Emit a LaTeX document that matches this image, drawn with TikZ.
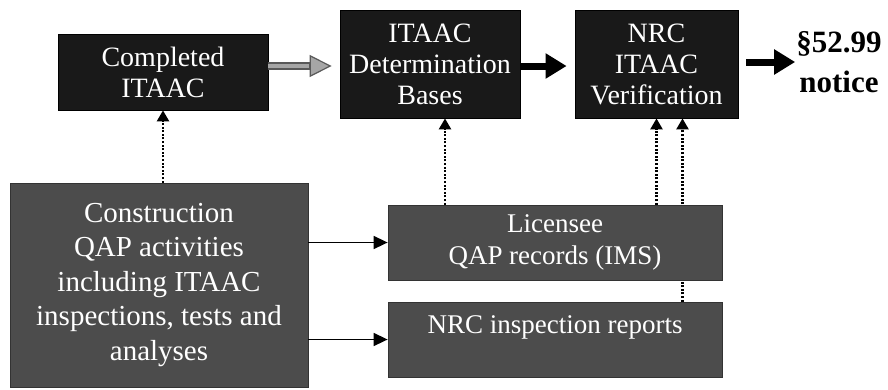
\documentclass[tikz,border=0pt]{standalone}
\usepackage{fontspec}
\setmainfont{Liberation Serif}
\newfontfamily\boxserif{Liberation Serif}
\usetikzlibrary{arrows.meta,backgrounds,calc}
\definecolor{topfill}{gray}{0.1}
\definecolor{lowfill}{gray}{0.3}
\tikzset{
  topbox/.style={draw=black, line width=0.8pt, fill=topfill, text=white, align=center,
    inner sep=0pt, font=\boxserif\fontsize{28}{31}\selectfont},
  lowbox/.style={draw=black!80, line width=0.8pt, fill=lowfill, text=white, align=center,
    inner sep=0pt},
  lowtext/.style={text=white, align=center, inner sep=0pt, font=\boxserif\fontsize{27}{32}\selectfont},
  bigarrow/.style={line width=7pt, -{Triangle[length=21pt,width=24pt]}},
  greyarrow/.style={line width=8pt, draw=black!65, -{Triangle[length=22pt,width=22pt,fill=black!35,line width=1.2pt]}},
  greycore/.style={line width=4pt, draw=black!35},
  thinarrow/.style={line width=1.6pt, -{Triangle[length=14pt,width=13pt]}},
  dotarrow/.style={line width=2.4pt, dash pattern=on 2pt off 1.6pt, -{Triangle[length=11pt,width=12pt]}},
}
\begin{document}
\begin{tikzpicture}[x=1pt,y=-1pt]
\useasboundingbox (0,0) rectangle (888,389);
% top row
\node[topbox, minimum width=210pt, minimum height=76pt] (comp) at (163,72) {Completed\\ITAAC};
\node[topbox, minimum width=180pt, minimum height=108pt] (det) at (430,64) {ITAAC\\Determination\\Bases};
\node[topbox, minimum width=163pt, minimum height=108pt] (nrc) at (656.5,64) {NRC\\ITAAC\\Verification};
\node[font=\boxserif\bfseries\fontsize{31}{40}\selectfont, align=center, inner sep=1pt] (notice) at (839,62) {§52.99\\notice};
% bottom row
\node[lowbox, minimum width=298pt, minimum height=204pt, font=\boxserif\fontsize{29}{34.5}\selectfont] (cons) at (159,285)
  {Construction\\QAP activities\\including ITAAC\\inspections, tests and\\analyses};
\node[lowbox, minimum width=334pt, minimum height=75pt, font=\boxserif\fontsize{27}{32}\selectfont] (lic) at (555,242.5)
  {Licensee\\QAP records (IMS)};
\node[lowbox, minimum width=334pt, minimum height=75pt] (nir) at (555,339.5) {};
\node[lowtext] (nirtext) at (555,327) {NRC inspection reports};
% horizontal arrows
\draw[greyarrow, shorten >=8pt] (comp.east |- 0,66) -- (det.west |- 0,66);
\draw[greycore, shorten >=31pt] (comp.east |- 0,66) -- (det.west |- 0,66);
\draw[bigarrow, shorten >=8pt] (det.east |- 0,66) -- (nrc.west |- 0,66);
\draw[bigarrow, shorten <=8pt] (nrc.east |- notice.west) -- (notice.west);
\draw[thinarrow] (cons.east |- lic.west) -- (lic.west);
\draw[thinarrow] (cons.east |- nir.west) -- (nir.west);
% dotted arrows
\draw[dotarrow] (comp.south |- cons.north) -- (comp.south);
\draw[dotarrow] ([xshift=15pt]det.south |- lic.north) -- ([xshift=15pt]det.south);
\draw[dotarrow] (nrc.south |- lic.north) -- (nrc.south);
\begin{scope}[on background layer]
\draw[dotarrow] ([xshift=26pt]nrc.south |- nir.north) -- ([xshift=26pt]nrc.south);
\end{scope}
\end{tikzpicture}
\end{document}
